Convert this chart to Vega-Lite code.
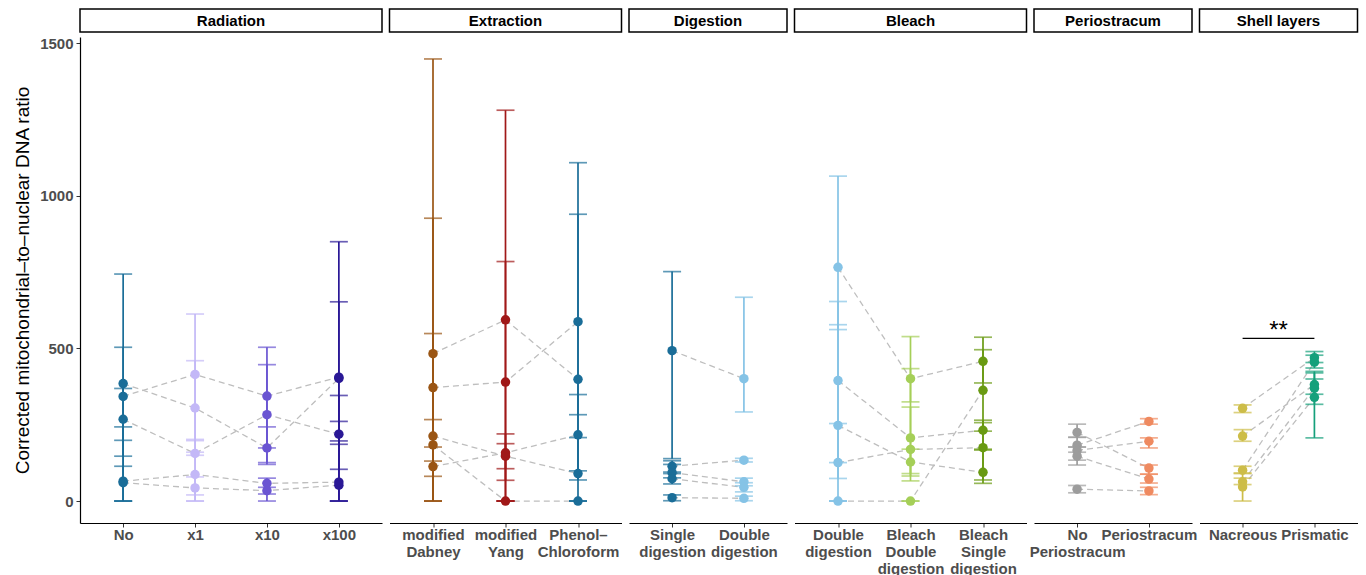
{
  "$schema": "https://vega.github.io/schema/vega-lite/v6.json",
  "padding": {"left": 13, "top": 8, "right": 3, "bottom": 0},
  "spacing": 3,
  "config": {
    "view": {"stroke": null},
    "font": "Liberation Sans",
    "axisX": {"title": null, "labelAngle": 0, "labelFont": "Liberation Sans", "labelFontWeight": "bold", "labelFontSize": 15, "labelColor": "#4d4d4d", "labelLineHeight": 17, "labelPadding": 0, "labelOverlap": false, "labelBound": false, "domainColor": "black", "domainWidth": 1.2, "tickColor": "#333333", "tickSize": 4, "grid": false},
    "axisY": {"grid": false, "domainColor": "black", "domainWidth": 1.2, "tickColor": "#333333", "tickSize": 4, "labelFont": "Liberation Sans", "labelFontWeight": "bold", "labelColor": "#4d4d4d", "labelFontSize": 15, "labelPadding": 3, "titleFont": "Liberation Sans", "titleFontSize": 19, "titleFontWeight": "normal", "titleColor": "black", "titlePadding": 7},
    "line": {"color": "#bebebe", "strokeDash": [6, 4], "strokeWidth": 1.3},
    "rule": {"strokeWidth": 1.7},
    "tick": {"orient": "horizontal", "bandSize": 22, "thickness": 1.7},
    "circle": {"size": 90, "opacity": 1},
    "text": {"font": "Liberation Sans"}
  },
  "datasets": {
    "obs": [
      {"kind": "obs", "panel": "Radiation", "sample": "R1", "cond": "No", "v": 385, "lo": 0, "hi": 744},
      {"kind": "obs", "panel": "Radiation", "sample": "R1", "cond": "x1", "v": 305, "lo": 150, "hi": 460},
      {"kind": "obs", "panel": "Radiation", "sample": "R1", "cond": "x10", "v": 174, "lo": 126, "hi": 243},
      {"kind": "obs", "panel": "Radiation", "sample": "R1", "cond": "x100", "v": 402, "lo": 186, "hi": 653},
      {"kind": "obs", "panel": "Radiation", "sample": "R2", "cond": "No", "v": 343, "lo": 199, "hi": 504},
      {"kind": "obs", "panel": "Radiation", "sample": "R2", "cond": "x1", "v": 415, "lo": 198, "hi": 613},
      {"kind": "obs", "panel": "Radiation", "sample": "R2", "cond": "x10", "v": 344, "lo": 174, "hi": 504},
      {"kind": "obs", "panel": "Radiation", "sample": "R2", "cond": "x100", "v": 406, "lo": 0, "hi": 850},
      {"kind": "obs", "panel": "Radiation", "sample": "R3", "cond": "No", "v": 268, "lo": 147, "hi": 369},
      {"kind": "obs", "panel": "Radiation", "sample": "R3", "cond": "x1", "v": 156, "lo": 20, "hi": 202},
      {"kind": "obs", "panel": "Radiation", "sample": "R3", "cond": "x10", "v": 283, "lo": 120, "hi": 447},
      {"kind": "obs", "panel": "Radiation", "sample": "R3", "cond": "x100", "v": 219, "lo": 104, "hi": 346},
      {"kind": "obs", "panel": "Radiation", "sample": "R4", "cond": "No", "v": 65, "lo": 0, "hi": 243},
      {"kind": "obs", "panel": "Radiation", "sample": "R4", "cond": "x1", "v": 87, "lo": 0, "hi": 160},
      {"kind": "obs", "panel": "Radiation", "sample": "R4", "cond": "x10", "v": 58, "lo": 0, "hi": 75},
      {"kind": "obs", "panel": "Radiation", "sample": "R4", "cond": "x100", "v": 62, "lo": 0, "hi": 261},
      {"kind": "obs", "panel": "Radiation", "sample": "R5", "cond": "No", "v": 60, "lo": 0, "hi": 114},
      {"kind": "obs", "panel": "Radiation", "sample": "R5", "cond": "x1", "v": 43, "lo": 0, "hi": 79},
      {"kind": "obs", "panel": "Radiation", "sample": "R5", "cond": "x10", "v": 34, "lo": 23, "hi": 45},
      {"kind": "obs", "panel": "Radiation", "sample": "R5", "cond": "x100", "v": 52, "lo": 0, "hi": 197},
      {"kind": "obs", "panel": "Extraction", "sample": "E1", "cond": "modified Dabney", "v": 483, "lo": 0, "hi": 1449},
      {"kind": "obs", "panel": "Extraction", "sample": "E1", "cond": "modified Yang", "v": 594, "lo": 0, "hi": 1281},
      {"kind": "obs", "panel": "Extraction", "sample": "E1", "cond": "Phenol–Chloroform", "v": 399, "lo": 283, "hi": 940},
      {"kind": "obs", "panel": "Extraction", "sample": "E2", "cond": "modified Dabney", "v": 372, "lo": 0, "hi": 927},
      {"kind": "obs", "panel": "Extraction", "sample": "E2", "cond": "modified Yang", "v": 390, "lo": 0, "hi": 785},
      {"kind": "obs", "panel": "Extraction", "sample": "E2", "cond": "Phenol–Chloroform", "v": 588, "lo": 69, "hi": 1109},
      {"kind": "obs", "panel": "Extraction", "sample": "E3", "cond": "modified Dabney", "v": 213, "lo": 0, "hi": 549},
      {"kind": "obs", "panel": "Extraction", "sample": "E3", "cond": "modified Yang", "v": 147, "lo": 106, "hi": 188},
      {"kind": "obs", "panel": "Extraction", "sample": "E3", "cond": "Phenol–Chloroform", "v": 90, "lo": 0, "hi": 208},
      {"kind": "obs", "panel": "Extraction", "sample": "E4", "cond": "modified Dabney", "v": 184, "lo": 131, "hi": 267},
      {"kind": "obs", "panel": "Extraction", "sample": "E4", "cond": "modified Yang", "v": 0, "lo": 0, "hi": 0},
      {"kind": "obs", "panel": "Extraction", "sample": "E4", "cond": "Phenol–Chloroform", "v": 0, "lo": 0, "hi": 0},
      {"kind": "obs", "panel": "Extraction", "sample": "E5", "cond": "modified Dabney", "v": 113, "lo": 81, "hi": 177},
      {"kind": "obs", "panel": "Extraction", "sample": "E5", "cond": "modified Yang", "v": 158, "lo": 68, "hi": 220},
      {"kind": "obs", "panel": "Extraction", "sample": "E5", "cond": "Phenol–Chloroform", "v": 217, "lo": 99, "hi": 349},
      {"kind": "obs", "panel": "Digestion", "sample": "D1", "cond": "Single digestion", "v": 493, "lo": 139, "hi": 752},
      {"kind": "obs", "panel": "Digestion", "sample": "D1", "cond": "Double digestion", "v": 401, "lo": 292, "hi": 668},
      {"kind": "obs", "panel": "Digestion", "sample": "D2", "cond": "Single digestion", "v": 114, "lo": 90, "hi": 132},
      {"kind": "obs", "panel": "Digestion", "sample": "D2", "cond": "Double digestion", "v": 134, "lo": 128, "hi": 140},
      {"kind": "obs", "panel": "Digestion", "sample": "D3", "cond": "Single digestion", "v": 93, "lo": 76, "hi": 120},
      {"kind": "obs", "panel": "Digestion", "sample": "D3", "cond": "Double digestion", "v": 63, "lo": 50, "hi": 75},
      {"kind": "obs", "panel": "Digestion", "sample": "D4", "cond": "Single digestion", "v": 73, "lo": 56, "hi": 95},
      {"kind": "obs", "panel": "Digestion", "sample": "D4", "cond": "Double digestion", "v": 45, "lo": 30, "hi": 60},
      {"kind": "obs", "panel": "Digestion", "sample": "D5", "cond": "Single digestion", "v": 11, "lo": 1, "hi": 20},
      {"kind": "obs", "panel": "Digestion", "sample": "D5", "cond": "Double digestion", "v": 9, "lo": 1, "hi": 16},
      {"kind": "obs", "panel": "Bleach", "sample": "B1", "cond": "Double digestion", "v": 766, "lo": 562, "hi": 1065},
      {"kind": "obs", "panel": "Bleach", "sample": "B1", "cond": "Bleach Double digestion", "v": 401, "lo": 325, "hi": 539},
      {"kind": "obs", "panel": "Bleach", "sample": "B1", "cond": "Bleach Single digestion", "v": 458, "lo": 387, "hi": 537},
      {"kind": "obs", "panel": "Bleach", "sample": "B2", "cond": "Double digestion", "v": 395, "lo": 126, "hi": 654},
      {"kind": "obs", "panel": "Bleach", "sample": "B2", "cond": "Bleach Double digestion", "v": 207, "lo": 90, "hi": 434},
      {"kind": "obs", "panel": "Bleach", "sample": "B2", "cond": "Bleach Single digestion", "v": 232, "lo": 167, "hi": 265},
      {"kind": "obs", "panel": "Bleach", "sample": "B3", "cond": "Double digestion", "v": 248, "lo": 74, "hi": 578},
      {"kind": "obs", "panel": "Bleach", "sample": "B3", "cond": "Bleach Double digestion", "v": 128, "lo": 66, "hi": 170},
      {"kind": "obs", "panel": "Bleach", "sample": "B3", "cond": "Bleach Single digestion", "v": 94, "lo": 58, "hi": 170},
      {"kind": "obs", "panel": "Bleach", "sample": "B4", "cond": "Double digestion", "v": 126, "lo": 0, "hi": 254},
      {"kind": "obs", "panel": "Bleach", "sample": "B4", "cond": "Bleach Double digestion", "v": 169, "lo": 82, "hi": 308},
      {"kind": "obs", "panel": "Bleach", "sample": "B4", "cond": "Bleach Single digestion", "v": 175, "lo": 69, "hi": 257},
      {"kind": "obs", "panel": "Bleach", "sample": "B5", "cond": "Double digestion", "v": 0, "lo": 0, "hi": 0},
      {"kind": "obs", "panel": "Bleach", "sample": "B5", "cond": "Bleach Double digestion", "v": 0, "lo": 0, "hi": 0},
      {"kind": "obs", "panel": "Bleach", "sample": "B5", "cond": "Bleach Single digestion", "v": 363, "lo": 229, "hi": 496},
      {"kind": "obs", "panel": "Periostracum", "sample": "P1", "cond": "No Periostracum", "v": 225, "lo": 209, "hi": 252},
      {"kind": "obs", "panel": "Periostracum", "sample": "P1", "cond": "Periostracum", "v": 108, "lo": 88, "hi": 118},
      {"kind": "obs", "panel": "Periostracum", "sample": "P2", "cond": "No Periostracum", "v": 183, "lo": 160, "hi": 209},
      {"kind": "obs", "panel": "Periostracum", "sample": "P2", "cond": "Periostracum", "v": 261, "lo": 252, "hi": 270},
      {"kind": "obs", "panel": "Periostracum", "sample": "P3", "cond": "No Periostracum", "v": 166, "lo": 134, "hi": 177},
      {"kind": "obs", "panel": "Periostracum", "sample": "P3", "cond": "Periostracum", "v": 196, "lo": 174, "hi": 207},
      {"kind": "obs", "panel": "Periostracum", "sample": "P4", "cond": "No Periostracum", "v": 147, "lo": 118, "hi": 177},
      {"kind": "obs", "panel": "Periostracum", "sample": "P4", "cond": "Periostracum", "v": 72, "lo": 59, "hi": 88},
      {"kind": "obs", "panel": "Periostracum", "sample": "P5", "cond": "No Periostracum", "v": 39, "lo": 27, "hi": 51},
      {"kind": "obs", "panel": "Periostracum", "sample": "P5", "cond": "Periostracum", "v": 33, "lo": 21, "hi": 45},
      {"kind": "obs", "panel": "Shell layers", "sample": "S1", "cond": "Nacreous", "v": 304, "lo": 290, "hi": 315},
      {"kind": "obs", "panel": "Shell layers", "sample": "S1", "cond": "Prismatic", "v": 470, "lo": 454, "hi": 490},
      {"kind": "obs", "panel": "Shell layers", "sample": "S2", "cond": "Nacreous", "v": 213, "lo": 196, "hi": 234},
      {"kind": "obs", "panel": "Shell layers", "sample": "S2", "cond": "Prismatic", "v": 382, "lo": 350, "hi": 425},
      {"kind": "obs", "panel": "Shell layers", "sample": "S3", "cond": "Nacreous", "v": 101, "lo": 90, "hi": 114},
      {"kind": "obs", "panel": "Shell layers", "sample": "S3", "cond": "Prismatic", "v": 455, "lo": 436, "hi": 478},
      {"kind": "obs", "panel": "Shell layers", "sample": "S4", "cond": "Nacreous", "v": 63, "lo": 54, "hi": 75},
      {"kind": "obs", "panel": "Shell layers", "sample": "S4", "cond": "Prismatic", "v": 370, "lo": 317, "hi": 400},
      {"kind": "obs", "panel": "Shell layers", "sample": "S5", "cond": "Nacreous", "v": 46, "lo": 0, "hi": 92},
      {"kind": "obs", "panel": "Shell layers", "sample": "S5", "cond": "Prismatic", "v": 340, "lo": 207, "hi": 420},
      {"kind": "sig", "panel": "Shell layers", "sample": "sig", "cond": "Nacreous", "cond2": "Prismatic", "v": 533, "label": "**"}
    ]
  },
  "vconcat": [
    {
      "spacing": 7.5,
      "bounds": "flush",
      "hconcat": [
        {"width": 302, "height": 23, "view": {"stroke": "black", "strokeWidth": 1.5, "fill": "white"},
         "data": {"name": "obs"},
         "transform": [{"filter": "datum.panel == 'Radiation'"}, {"aggregate": [{"op": "count", "as": "n"}], "groupby": ["panel"]}],
         "mark": {"type": "text", "fontSize": 15, "fontWeight": "bold", "color": "black"},
         "encoding": {"text": {"field": "panel"}}},
        {"width": 232, "height": 23, "view": {"stroke": "black", "strokeWidth": 1.5, "fill": "white"},
         "data": {"name": "obs"},
         "transform": [{"filter": "datum.panel == 'Extraction'"}, {"aggregate": [{"op": "count", "as": "n"}], "groupby": ["panel"]}],
         "mark": {"type": "text", "fontSize": 15, "fontWeight": "bold", "color": "black"},
         "encoding": {"text": {"field": "panel"}}},
        {"width": 158, "height": 23, "view": {"stroke": "black", "strokeWidth": 1.5, "fill": "white"},
         "data": {"name": "obs"},
         "transform": [{"filter": "datum.panel == 'Digestion'"}, {"aggregate": [{"op": "count", "as": "n"}], "groupby": ["panel"]}],
         "mark": {"type": "text", "fontSize": 15, "fontWeight": "bold", "color": "black"},
         "encoding": {"text": {"field": "panel"}}},
        {"width": 232, "height": 23, "view": {"stroke": "black", "strokeWidth": 1.5, "fill": "white"},
         "data": {"name": "obs"},
         "transform": [{"filter": "datum.panel == 'Bleach'"}, {"aggregate": [{"op": "count", "as": "n"}], "groupby": ["panel"]}],
         "mark": {"type": "text", "fontSize": 15, "fontWeight": "bold", "color": "black"},
         "encoding": {"text": {"field": "panel"}}},
        {"width": 158, "height": 23, "view": {"stroke": "black", "strokeWidth": 1.5, "fill": "white"},
         "data": {"name": "obs"},
         "transform": [{"filter": "datum.panel == 'Periostracum'"}, {"aggregate": [{"op": "count", "as": "n"}], "groupby": ["panel"]}],
         "mark": {"type": "text", "fontSize": 15, "fontWeight": "bold", "color": "black"},
         "encoding": {"text": {"field": "panel"}}},
        {"width": 158, "height": 23, "view": {"stroke": "black", "strokeWidth": 1.5, "fill": "white"},
         "data": {"name": "obs"},
         "transform": [{"filter": "datum.panel == 'Shell layers'"}, {"aggregate": [{"op": "count", "as": "n"}], "groupby": ["panel"]}],
         "mark": {"type": "text", "fontSize": 15, "fontWeight": "bold", "color": "black"},
         "encoding": {"text": {"field": "panel"}}}
      ]
    },
    {
      "spacing": 7.5,
      "bounds": "flush",
      "hconcat": [
        {"width": 302, "height": 486,
         "data": {"name": "obs"},
         "transform": [{"filter": "datum.panel == 'Radiation' && datum.kind == 'obs'"}],
         "encoding": {
           "x": {"field": "cond", "type": "nominal", "sort": ["No", "x1", "x10", "x100"], "scale": {"type": "point", "padding": 0.6}},
           "y": {"field": "v", "type": "quantitative", "scale": {"domain": [-72, 1521], "nice": false, "zero": false},
             "axis": {"title": "Corrected mitochondrial–to–nuclear DNA ratio", "values": [0, 500, 1000, 1500], "format": "d"}},
           "color": {"field": "cond", "type": "nominal", "legend": null,
             "scale": {"domain": ["No", "x1", "x10", "x100", "modified Dabney", "modified Yang", "Phenol–Chloroform", "Single digestion", "Double digestion", "Bleach Double digestion", "Bleach Single digestion", "No Periostracum", "Periostracum", "Nacreous", "Prismatic"],
               "range": ["#1a6d98", "#c3b8f7", "#6a55d2", "#2a1896", "#9a5514", "#a01818", "#1a6d98", "#1a6d98", "#85c3e6", "#a5cf58", "#699a12", "#9c9c9c", "#ef8a60", "#cdbd48", "#15a07b"]}}
         },
         "layer": [
           {"mark": "line", "encoding": {"detail": {"field": "sample"}, "color": {"value": "#bebebe"}}},
           {"mark": "rule", "encoding": {"y": {"field": "lo", "type": "quantitative"}, "y2": {"field": "hi"}}},
           {"mark": "tick", "encoding": {"y": {"field": "lo", "type": "quantitative"}}},
           {"mark": "tick", "encoding": {"y": {"field": "hi", "type": "quantitative"}}},
           {"mark": "circle"}
         ]},
        {"width": 232, "height": 486,
         "data": {"name": "obs"},
         "transform": [{"filter": "datum.panel == 'Extraction' && datum.kind == 'obs'"}],
         "encoding": {
           "x": {"field": "cond", "type": "nominal", "sort": ["modified Dabney", "modified Yang", "Phenol–Chloroform"], "scale": {"type": "point", "padding": 0.6},
             "axis": {"labelExpr": "datum.value == 'Phenol–Chloroform' ? ['Phenol–', 'Chloroform'] : split(datum.value, ' ')"}},
           "y": {"field": "v", "type": "quantitative", "scale": {"domain": [-72, 1521], "nice": false, "zero": false}, "axis": null},
           "color": {"field": "cond", "type": "nominal", "legend": null}
         },
         "layer": [
           {"mark": "line", "encoding": {"detail": {"field": "sample"}, "color": {"value": "#bebebe"}}},
           {"mark": "rule", "encoding": {"y": {"field": "lo", "type": "quantitative"}, "y2": {"field": "hi"}}},
           {"mark": "tick", "encoding": {"y": {"field": "lo", "type": "quantitative"}}},
           {"mark": "tick", "encoding": {"y": {"field": "hi", "type": "quantitative"}}},
           {"mark": "circle"}
         ]},
        {"width": 158, "height": 486,
         "data": {"name": "obs"},
         "transform": [{"filter": "datum.panel == 'Digestion' && datum.kind == 'obs'"}],
         "encoding": {
           "x": {"field": "cond", "type": "nominal", "sort": ["Single digestion", "Double digestion"], "scale": {"type": "point", "padding": 0.6},
             "axis": {"labelExpr": "split(datum.value, ' ')"}},
           "y": {"field": "v", "type": "quantitative", "scale": {"domain": [-72, 1521], "nice": false, "zero": false}, "axis": null},
           "color": {"field": "cond", "type": "nominal", "legend": null}
         },
         "layer": [
           {"mark": "line", "encoding": {"detail": {"field": "sample"}, "color": {"value": "#bebebe"}}},
           {"mark": "rule", "encoding": {"y": {"field": "lo", "type": "quantitative"}, "y2": {"field": "hi"}}},
           {"mark": "tick", "encoding": {"y": {"field": "lo", "type": "quantitative"}}},
           {"mark": "tick", "encoding": {"y": {"field": "hi", "type": "quantitative"}}},
           {"mark": "circle"}
         ]},
        {"width": 232, "height": 486,
         "data": {"name": "obs"},
         "transform": [{"filter": "datum.panel == 'Bleach' && datum.kind == 'obs'"}],
         "encoding": {
           "x": {"field": "cond", "type": "nominal", "sort": ["Double digestion", "Bleach Double digestion", "Bleach Single digestion"], "scale": {"type": "point", "padding": 0.6},
             "axis": {"labelExpr": "split(datum.value, ' ')"}},
           "y": {"field": "v", "type": "quantitative", "scale": {"domain": [-72, 1521], "nice": false, "zero": false}, "axis": null},
           "color": {"field": "cond", "type": "nominal", "legend": null}
         },
         "layer": [
           {"mark": "line", "encoding": {"detail": {"field": "sample"}, "color": {"value": "#bebebe"}}},
           {"mark": "rule", "encoding": {"y": {"field": "lo", "type": "quantitative"}, "y2": {"field": "hi"}}},
           {"mark": "tick", "encoding": {"y": {"field": "lo", "type": "quantitative"}}},
           {"mark": "tick", "encoding": {"y": {"field": "hi", "type": "quantitative"}}},
           {"mark": "circle"}
         ]},
        {"width": 158, "height": 486,
         "data": {"name": "obs"},
         "transform": [{"filter": "datum.panel == 'Periostracum' && datum.kind == 'obs'"}],
         "encoding": {
           "x": {"field": "cond", "type": "nominal", "sort": ["No Periostracum", "Periostracum"], "scale": {"type": "point", "padding": 0.6},
             "axis": {"labelExpr": "split(datum.value, ' ')"}},
           "y": {"field": "v", "type": "quantitative", "scale": {"domain": [-72, 1521], "nice": false, "zero": false}, "axis": null},
           "color": {"field": "cond", "type": "nominal", "legend": null}
         },
         "layer": [
           {"mark": "line", "encoding": {"detail": {"field": "sample"}, "color": {"value": "#bebebe"}}},
           {"mark": "rule", "encoding": {"y": {"field": "lo", "type": "quantitative"}, "y2": {"field": "hi"}}},
           {"mark": "tick", "encoding": {"y": {"field": "lo", "type": "quantitative"}}},
           {"mark": "tick", "encoding": {"y": {"field": "hi", "type": "quantitative"}}},
           {"mark": "circle"}
         ]},
        {"width": 158, "height": 486,
         "data": {"name": "obs"},
         "transform": [{"filter": "datum.panel == 'Shell layers'"}],
         "encoding": {
           "x": {"field": "cond", "type": "nominal", "sort": ["Nacreous", "Prismatic"], "scale": {"type": "point", "padding": 0.6}},
           "y": {"field": "v", "type": "quantitative", "scale": {"domain": [-72, 1521], "nice": false, "zero": false}, "axis": null},
           "color": {"field": "cond", "type": "nominal", "legend": null}
         },
         "layer": [
           {"transform": [{"filter": "datum.kind == 'obs'"}], "mark": "line", "encoding": {"detail": {"field": "sample"}, "color": {"value": "#bebebe"}}},
           {"transform": [{"filter": "datum.kind == 'obs'"}], "mark": "rule", "encoding": {"y": {"field": "lo", "type": "quantitative"}, "y2": {"field": "hi"}}},
           {"transform": [{"filter": "datum.kind == 'obs'"}], "mark": "tick", "encoding": {"y": {"field": "lo", "type": "quantitative"}}},
           {"transform": [{"filter": "datum.kind == 'obs'"}], "mark": "tick", "encoding": {"y": {"field": "hi", "type": "quantitative"}}},
           {"transform": [{"filter": "datum.kind == 'obs'"}], "mark": "circle"},
           {"transform": [{"filter": "datum.kind == 'sig'"}], "mark": {"type": "rule", "strokeWidth": 1.2}, "encoding": {"x2": {"field": "cond2"}, "color": {"value": "black"}}},
           {"transform": [{"filter": "datum.kind == 'sig'"}], "mark": {"type": "text", "fontSize": 24, "dx": 36, "dy": 0, "baseline": "alphabetic", "align": "center"}, "encoding": {"text": {"field": "label"}, "color": {"value": "black"}}}
         ]}
      ]
    }
  ]
}
